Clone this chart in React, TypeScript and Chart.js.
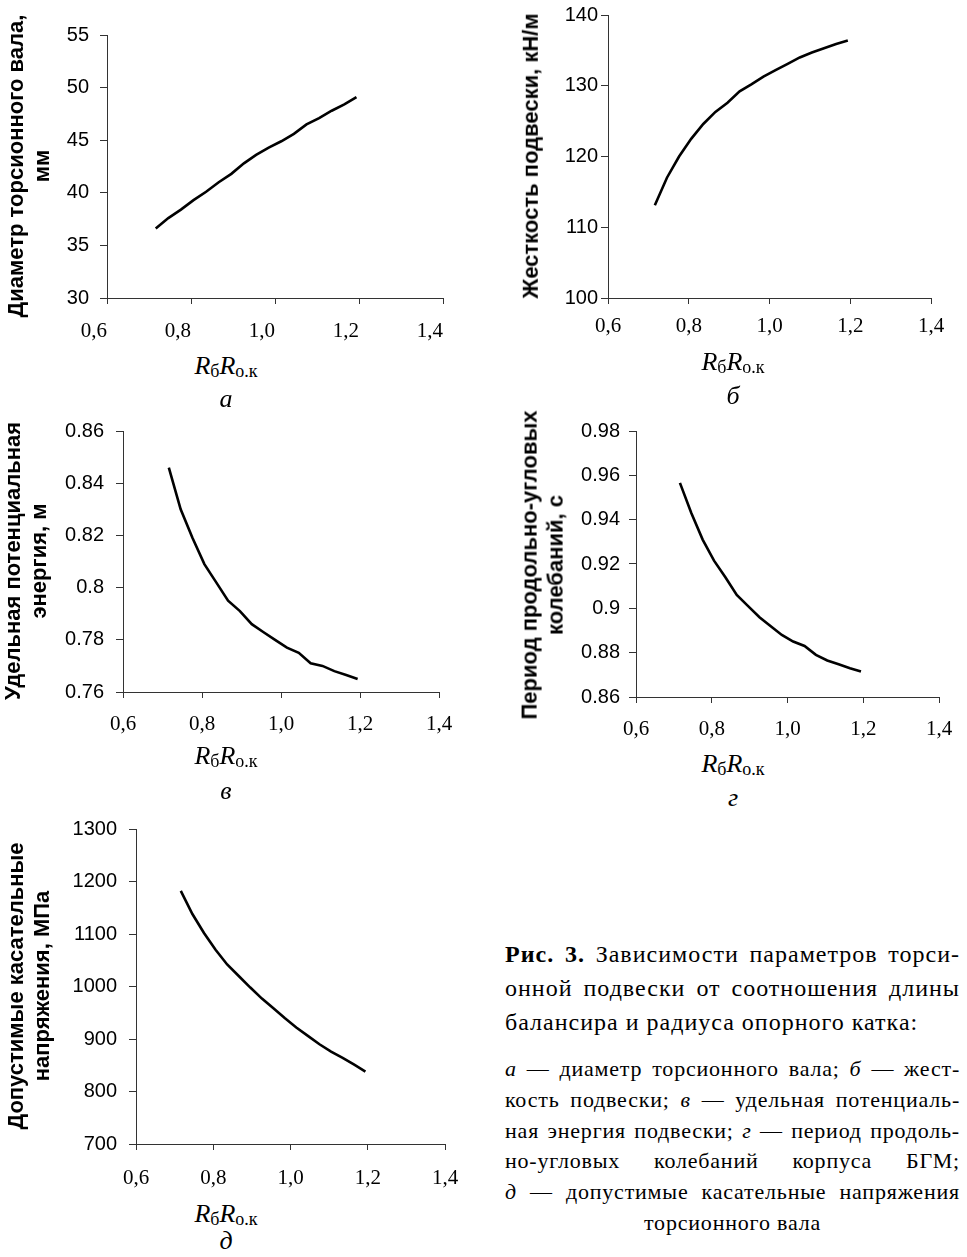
import React, { useEffect, useRef } from "react";
import { Chart, registerables } from "chart.js";

Chart.register(...registerables);

// ---- data ----
const ratio = [0.716, 0.746, 0.776, 0.806, 0.836, 0.866, 0.896, 0.926, 0.955, 0.985, 1.015, 1.045, 1.075, 1.105, 1.135, 1.165, 1.194];
const shaftDiameter = [36.6, 37.6, 38.4, 39.3, 40.1, 41.0, 41.8, 42.8, 43.6, 44.3, 44.9, 45.6, 46.5, 47.1, 47.8, 48.4, 49.1];
const stiffness = [113.1, 117.0, 120.0, 122.5, 124.6, 126.3, 127.6, 129.2, 130.2, 131.3, 132.2, 133.1, 134.0, 134.7, 135.3, 135.9, 136.4];
const energy = [0.846, 0.830, 0.819, 0.809, 0.802, 0.795, 0.791, 0.786, 0.783, 0.780, 0.777, 0.775, 0.771, 0.770, 0.768, 0.7665, 0.765];
const period = [0.9566, 0.943, 0.931, 0.9215, 0.914, 0.906, 0.901, 0.896, 0.892, 0.888, 0.885, 0.883, 0.879, 0.8765, 0.8748, 0.873, 0.8715];
const stress = [1182, 1138, 1102, 1070, 1042, 1020, 998, 977, 959, 940, 922, 906, 890, 876, 864, 851, 838];

const xTickValues = [0.6, 0.8, 1.0, 1.2, 1.4];
const diameterTicks = [30, 35, 40, 45, 50, 55];
const stiffnessTicks = [100, 110, 120, 130, 140];
const energyTicks = [0.76, 0.78, 0.8, 0.82, 0.84, 0.86];
const periodTicks = [0.86, 0.88, 0.9, 0.92, 0.94, 0.96, 0.98];
const stressTicks = [700, 800, 900, 1000, 1100, 1200, 1300];

const AXIS = "#333333";
const SERIF = '"Liberation Serif", "Times New Roman", serif';
const SANS = '"Liberation Sans", Arial, sans-serif';
const PAD_TOP = 30;
const PAD_RIGHT = 36;
const X_AXIS_H = 50;

type Plot = {
  colLeft: number; plotLeft: number; plotRight: number; plotTop: number; plotBottom: number;
  yPad: number; xPad: number; xAlign: "center" | "end";
};

function LineChart({ values, ticks, plot }: { values: number[]; ticks: number[]; plot: Plot }) {
  const ref = useRef<HTMLCanvasElement | null>(null);
  const left = plot.colLeft;
  const top = plot.plotTop - PAD_TOP;
  const width = plot.plotRight + PAD_RIGHT - plot.colLeft;
  const height = plot.plotBottom - plot.plotTop + PAD_TOP + X_AXIS_H;
  useEffect(() => {
    if (!ref.current) return;
    const chart = new Chart(ref.current, {
      type: "line",
      data: {
        datasets: [
          {
            data: ratio.map((x, i) => ({ x, y: values[i] })),
            borderColor: "#000",
            borderWidth: 2.6,
            pointRadius: 0,
            tension: 0,
            fill: false,
          },
        ],
      },
      options: {
        animation: false,
        responsive: false,
        maintainAspectRatio: false,
        layout: { padding: { top: PAD_TOP, right: PAD_RIGHT, left: 0, bottom: 0 } },
        plugins: { legend: { display: false }, tooltip: { enabled: false } },
        scales: {
          x: {
            type: "linear",
            min: xTickValues[0],
            max: xTickValues[xTickValues.length - 1],
            afterBuildTicks: (s: any) => {
              s.ticks = xTickValues.map((v) => ({ value: v }));
            },
            afterFit: (s: any) => {
              s.height = X_AXIS_H;
            },
            ticks: {
              callback: (v: any) => Number(v).toFixed(1).replace(".", ","),
              font: { family: SERIF, size: 21 },
              color: "#000",
              padding: plot.xPad,
              align: plot.xAlign,
              maxRotation: 0,
            },
            grid: { display: true, drawOnChartArea: false, drawTicks: true, tickLength: 6, color: AXIS },
            border: { display: true, color: AXIS, width: 1 },
          },
          y: {
            type: "linear",
            min: ticks[0],
            max: ticks[ticks.length - 1],
            afterBuildTicks: (s: any) => {
              s.ticks = ticks.map((v) => ({ value: v }));
            },
            afterFit: (s: any) => {
              s.width = plot.plotLeft - plot.colLeft;
            },
            ticks: {
              callback: (v: any) => String(v),
              font: { family: SANS, size: 20 },
              color: "#000",
              padding: plot.yPad,
            },
            grid: { display: true, drawOnChartArea: false, drawTicks: true, tickLength: 7, color: AXIS },
            border: { display: true, color: AXIS, width: 1 },
          },
        },
      },
    } as any);
    return () => chart.destroy();
  }, []);
  return (
    <canvas
      ref={ref}
      width={width}
      height={height}
      style={{ position: "absolute", left, top, width, height }}
    />
  );
}

function YTitle({ cx, cy, lines }: { cx: number; cy: number; lines: string[] }) {
  return (
    <div
      style={{
        position: "absolute",
        left: cx,
        top: cy,
        transform: "translate(-50%, -50%) rotate(-90deg)",
        whiteSpace: "nowrap",
        textAlign: "center",
        fontFamily: SANS,
        fontWeight: "bold",
        fontSize: 22,
        lineHeight: "26.4px",
        color: "#000",
      }}
    >
      {lines.map((l, i) => (
        <div key={i}>{l}</div>
      ))}
    </div>
  );
}

function XTitle({ cx, baseline, letter, letterBaseline }: { cx: number; baseline: number; letter: string; letterBaseline: number }) {
  const fs = 26;
  const ls = 26;
  return (
    <>
      <div
        style={{
          position: "absolute",
          left: cx,
          top: baseline - 0.3375 * fs,
          transform: "translateX(-50%)",
          lineHeight: 0,
          fontSize: fs,
          fontFamily: SERIF,
          whiteSpace: "nowrap",
          color: "#000",
        }}
      >
        <span style={{ fontStyle: "italic" }}>R</span>
        <span style={{ fontSize: 18, position: "relative", top: 3 }}>б</span>
        <span style={{ fontStyle: "italic" }}>R</span>
        <span style={{ fontSize: 18, position: "relative", top: 3 }}>о.к</span>
      </div>
      <div
        style={{
          position: "absolute",
          left: cx,
          top: letterBaseline - 0.3375 * ls,
          transform: "translateX(-50%)",
          lineHeight: 0,
          fontSize: ls,
          fontFamily: SERIF,
          fontStyle: "italic",
          whiteSpace: "nowrap",
          color: "#000",
        }}
      >
        {letter}
      </div>
    </>
  );
}

const justify: React.CSSProperties = { textAlign: "justify", textAlignLast: "justify", whiteSpace: "nowrap" };

export default function App() {
  return (
    <div
      style={{
        position: "absolute",
        left: 0,
        top: 0,
        width: 967,
        height: 1257,
        background: "#fff",
        overflow: "hidden",
      }}
    >
      <LineChart values={shaftDiameter} ticks={diameterTicks}
        plot={{ colLeft: 0, plotLeft: 107, plotRight: 443, plotTop: 35, plotBottom: 298, yPad: 11, xPad: 15, xAlign: "end" }} />
      <LineChart values={stiffness} ticks={stiffnessTicks}
        plot={{ colLeft: 480, plotLeft: 608, plotRight: 931, plotTop: 15, plotBottom: 298, yPad: 3, xPad: 10, xAlign: "center" }} />
      <LineChart values={energy} ticks={energyTicks}
        plot={{ colLeft: 0, plotLeft: 123, plotRight: 439, plotTop: 431, plotBottom: 692, yPad: 12, xPad: 14, xAlign: "center" }} />
      <LineChart values={period} ticks={periodTicks}
        plot={{ colLeft: 480, plotLeft: 636, plotRight: 939, plotTop: 431, plotBottom: 697, yPad: 9, xPad: 14, xAlign: "center" }} />
      <LineChart values={stress} ticks={stressTicks}
        plot={{ colLeft: 0, plotLeft: 136, plotRight: 445, plotTop: 829, plotBottom: 1144, yPad: 12, xPad: 16, xAlign: "center" }} />

      <YTitle cx={28.8} cy={166} lines={["Диаметр торсионного вала,", "мм"]} />
      <YTitle cx={531} cy={156} lines={["Жесткость подвески, кН/м"]} />
      <YTitle cx={26} cy={561} lines={["Удельная потенциальная", "энергия, м"]} />
      <YTitle cx={543} cy={565} lines={["Период продольно-угловых", "колебаний, с"]} />
      <YTitle cx={28.5} cy={986} lines={["Допустимые касательные", "напряжения, МПа"]} />

      <XTitle cx={226} baseline={375} letter="а" letterBaseline={408} />
      <XTitle cx={733} baseline={371} letter="б" letterBaseline={405} />
      <XTitle cx={226} baseline={765} letter="в" letterBaseline={800} />
      <XTitle cx={733} baseline={773} letter="г" letterBaseline={807} />
      <XTitle cx={226} baseline={1223} letter="д" letterBaseline={1250} />

      <div style={{ position: "absolute", left: 505, top: 936.6, width: 455, fontFamily: SERIF, fontSize: 24, lineHeight: "34px", letterSpacing: "1px", color: "#000" }}>
        <div style={justify}><b>Рис. 3.</b> Зависимости параметров торси-</div>
        <div style={justify}>онной подвески от соотношения длины</div>
        <div style={{ textAlign: "left", whiteSpace: "nowrap" }}>балансира и радиуса опорного катка:</div>
      </div>
      <div style={{ position: "absolute", left: 505, top: 1054.2, width: 455, fontFamily: SERIF, fontSize: 22, lineHeight: "30.7px", letterSpacing: "0.8px", color: "#000" }}>
        <div style={justify}><i>а</i> — диаметр торсионного вала; <i>б</i> — жест-</div>
        <div style={justify}>кость подвески; <i>в</i> — удельная потенциаль-</div>
        <div style={justify}>ная энергия подвески; <i>г</i> — период продоль-</div>
        <div style={justify}>но-угловых колебаний корпуса БГМ;</div>
        <div style={justify}><i>д</i> — допустимые касательные напряжения</div>
        <div style={{ textAlign: "center", whiteSpace: "nowrap" }}>торсионного вала</div>
      </div>
    </div>
  );
}
